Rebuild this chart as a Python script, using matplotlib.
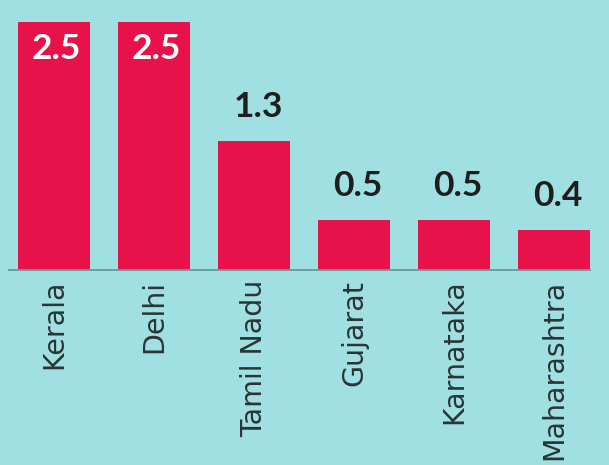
import matplotlib
matplotlib.use("Agg")
import matplotlib.pyplot as plt

states = ["Kerala", "Delhi", "Tamil Nadu", "Gujarat", "Karnataka", "Maharashtra"]
values = [2.5, 2.5, 1.3, 0.5, 0.5, 0.4]
inside = [True, True, False, False, False, False]

bg = "#a0e0e3"
bar_color = "#e8124a"

fig = plt.figure(figsize=(6.09, 4.65), dpi=100)
fig.patch.set_facecolor(bg)

# axes placed so the baseline sits at y=270px and 2.5 reaches y=22px
ax = fig.add_axes([9 / 609, 195 / 465, 581 / 609, 248 / 465])
ax.set_facecolor(bg)

x = list(range(len(states)))
ax.bar(x, values, width=0.72, color=bar_color, zorder=2)
ax.set_xlim(-0.45, 5.36)
ax.set_ylim(0, 2.5)

for xi, v, ins in zip(x, values, inside):
    if ins:
        ax.annotate(f"{v}", (xi, v), xytext=(2, -19.5), textcoords="offset points",
                    ha="center", va="center", color="white",
                    fontsize=25.5, fontweight="bold", family="Lato")
    else:
        ax.annotate(f"{v}", (xi, v), xytext=(3, 24.5), textcoords="offset points",
                    ha="center", va="center", color="#1e1e1e",
                    fontsize=25.5, fontweight="bold", family="Lato")

ax.set_xticks(x)
ax.set_xticklabels(states, rotation=90, fontsize=20.5, color="#2a3435",
                   family="DejaVu Sans")
ax.tick_params(axis="x", length=0, pad=7)
ax.set_yticks([])

for side in ["top", "left", "right"]:
    ax.spines[side].set_visible(False)
ax.spines["bottom"].set_color("#6b9c9e")
ax.spines["bottom"].set_linewidth(1.4)
ax.spines["bottom"].set_zorder(3)

fig.savefig("out.png", dpi=100, facecolor=bg)
